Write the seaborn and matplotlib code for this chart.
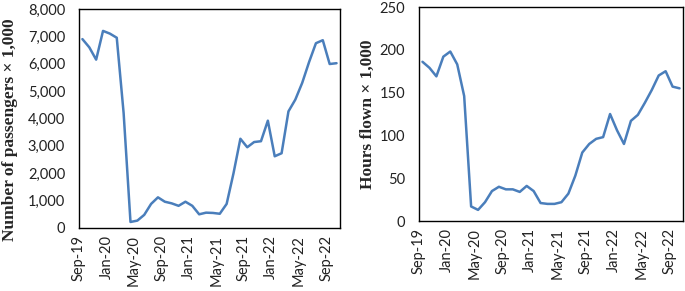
import numpy as np
import pandas as pd
import seaborn as sns
import matplotlib
matplotlib.use("Agg")
import matplotlib.pyplot as plt

# monthly data, Sep-19 .. Oct-22
months = pd.date_range("2019-09-01", "2022-10-01", freq="MS").strftime("%b-%y").tolist()

passengers = [6900, 6600, 6150, 7200, 7100, 6950, 4200, 220, 270, 480,
              880, 1120, 960, 900, 810, 960, 810, 500, 560, 550,
              520, 880, 2000, 3260, 2950, 3140, 3170, 3920, 2620, 2730,
              4260, 4690, 5300, 6060, 6750, 6860, 5990, 6020]

hours = [186, 179, 169, 192, 198, 183, 146, 17, 13, 22,
         35, 40, 37, 37, 34, 41, 35, 21, 20, 20,
         22, 32, 53, 80, 90, 96, 98, 125, 106, 90,
         117, 124, 138, 153, 170, 175, 157, 155]

df = pd.DataFrame({"month": months, "passengers": passengers, "hours": hours})
df["pos"] = np.arange(len(df)) + 0.5

sns.set_theme(style="white")
plt.rcParams["font.family"] = ["Lato", "DejaVu Sans"]

line_color = "#4a7ebb"
tick_pos = np.arange(0, len(df), 4)
tick_labels = [months[i] for i in tick_pos]

fig = plt.figure(figsize=(6.85, 2.91), dpi=100)
ax1 = fig.add_axes([0.1153, 0.2165, 0.381, 0.7526])
ax2 = fig.add_axes([0.6117, 0.2405, 0.3854, 0.7354])

panels = [
    (ax1, "passengers", "Number of passengers \u00d7 1,000", (-0.234, 0.45), (0, 8000), np.arange(0, 8001, 1000), lambda v: f"{int(v):,}"),
    (ax2, "hours", "Hours flown \u00d7 1,000", (-0.165, 0.5), (0, 250), np.arange(0, 251, 50), lambda v: f"{int(v)}"),
]

for ax, col, ylab, ylab_xy, ylim, yticks, fmt in panels:
    sns.lineplot(data=df, x="pos", y=col, ax=ax, color=line_color, linewidth=1.8)
    ax.set_xlim(0, len(df))
    ax.set_ylim(*ylim)
    ax.set_yticks(yticks)
    ax.set_yticklabels([fmt(v) for v in yticks])
    ax.set_xticks(tick_pos)
    ax.set_xticklabels(tick_labels, rotation=90)
    ax.set_xlabel("")
    ax.set_ylabel(ylab, fontfamily="Liberation Serif", fontweight="bold", fontsize=12.5)
    ax.yaxis.set_label_coords(*ylab_xy)
    ax.tick_params(axis="x", direction="in", length=4.5, width=1, color="black",
                   labelsize=10.5, labelcolor="#222222", pad=5)
    ax.tick_params(axis="y", length=0, labelsize=10.5, labelcolor="#222222", pad=10)
    for s in ax.spines.values():
        s.set_color("black")
        s.set_linewidth(1.0)

fig.savefig("out.png", dpi=100)
